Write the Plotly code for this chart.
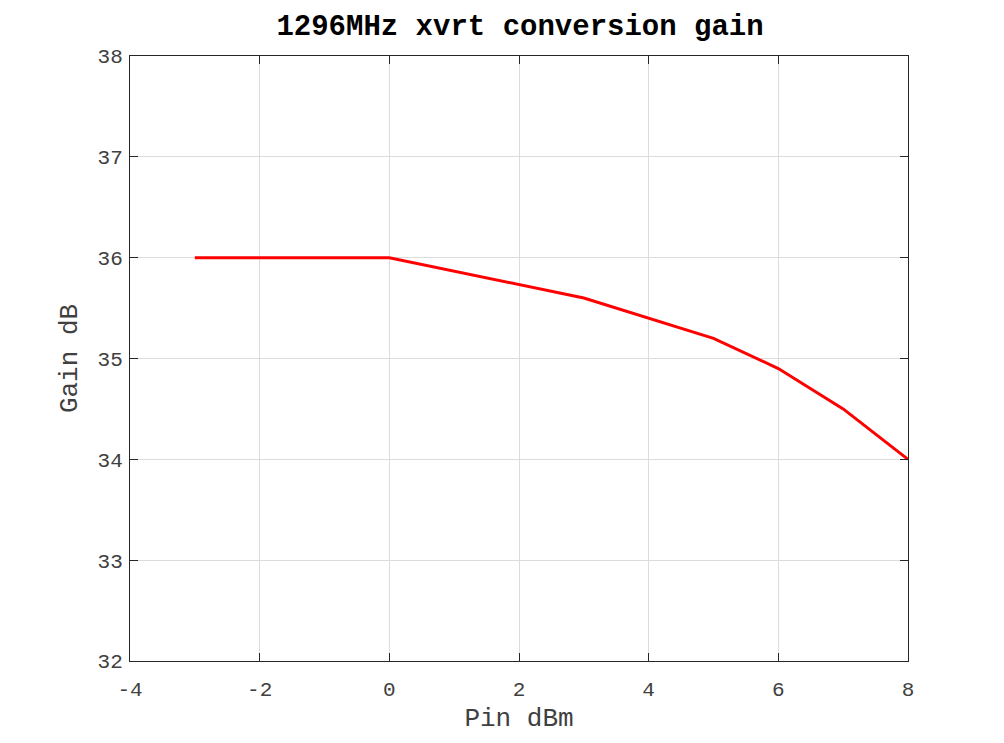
import plotly.graph_objects as go

# measured conversion gain vs input power
pin_dbm = [-3, 0, 3, 5, 6, 7, 8]
gain_db = [36.0, 36.0, 35.6, 35.2, 34.9, 34.5, 34.0]

x_ticks = [-4, -2, 0, 2, 4, 6, 8]
x_labels = ["-4", "-2", "0", "2", "4", "6", "8"]
y_ticks = [32, 33, 34, 35, 36, 37, 38]

FONT = "Liberation Mono, Courier New, monospace"

fig = go.Figure()
fig.add_trace(
    go.Scatter(
        x=pin_dbm,
        y=gain_db,
        mode="lines",
        line=dict(color="#ff0000", width=3),
        showlegend=False,
    )
)

axis_style = dict(
    showline=True,
    linecolor="#262626",
    linewidth=1,
    mirror="ticks",
    ticks="inside",
    ticklen=8,
    tickcolor="#262626",
    showgrid=True,
    gridcolor="#dcdcdc",
    gridwidth=1,
    zeroline=False,
    tickfont=dict(family=FONT, size=21, color="#404040"),
)

fig.update_xaxes(
    range=[-4, 8],
    tickvals=x_ticks,
    ticktext=x_labels,
    ticklabelstandoff=9,
    title=dict(text="Pin dBm", font=dict(family=FONT, size=26, color="#404040"), standoff=6),
    **axis_style,
)
fig.update_yaxes(
    range=[32, 38],
    tickvals=y_ticks,
    ticklabelstandoff=2,
    title=dict(text="Gain dB", font=dict(family=FONT, size=26, color="#404040"), standoff=12),
    **axis_style,
)

# page body adds an 8px offset, so margins are shifted to compensate
fig.update_layout(
    width=1004,
    height=743,
    margin=dict(l=122, r=104, t=48, b=90),
    paper_bgcolor="white",
    plot_bgcolor="white",
    title=dict(
        text="<b>1296MHz xvrt conversion gain</b>",
        x=0.51,
        xanchor="center",
        y=0.977,
        yanchor="middle",
        font=dict(family=FONT, size=29, color="black"),
    ),
)

fig.write_html("out.html")
